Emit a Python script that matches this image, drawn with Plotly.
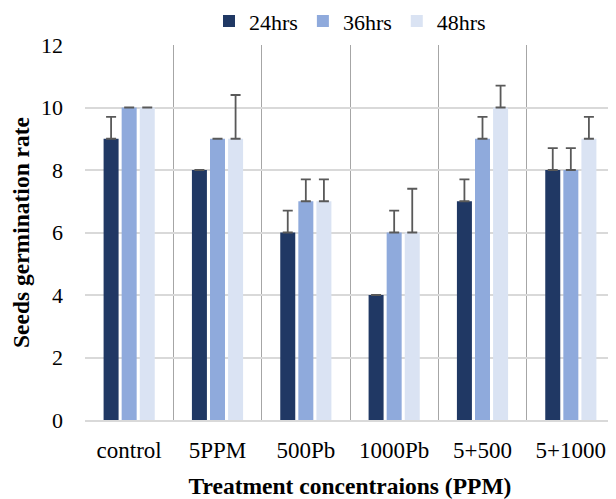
import plotly.graph_objects as go

categories = ["control", "5PPM", "500Pb", "1000Pb", "5+500", "5+1000"]
series_names = ["24hrs", "36hrs", "48hrs"]
values_24 = [9, 8, 6, 4, 7, 8]
values_36 = [10, 9, 7, 6, 9, 8]
values_48 = [10, 9, 7, 6, 10, 9]
err_24 = [0.7, 0, 0.7, 0, 0.7, 0.7]
err_36 = [0, 0, 0.7, 0.7, 0.7, 0.7]
err_48 = [0, 1.4, 0.7, 1.4, 0.7, 0.7]
colors = ["#203864", "#8FAADC", "#DAE3F3"]

font_family = "Liberation Serif, Times New Roman, serif"

fig = go.Figure()
for name, vals, errs, col in zip(series_names, [values_24, values_36, values_48],
                                 [err_24, err_36, err_48], colors):
    fig.add_trace(go.Bar(
        x=categories, y=vals, name=name,
        marker=dict(color=col, line=dict(width=0)),
        error_y=dict(type="data", array=errs, symmetric=False, arrayminus=[0]*len(errs),
                     color="#595959", thickness=1.8, width=5),
    ))

# page body has an 8px default margin, so the figure is sized to fit the window
fig.update_layout(
    width=608, height=491,
    margin=dict(l=77, r=1, t=37, b=79),
    paper_bgcolor="white", plot_bgcolor="white",
    barmode="group", bargap=0.386, bargroupgap=0.17,
    font=dict(family=font_family, color="black", size=22),
    legend=dict(orientation="h", x=0.5, xanchor="center", yref="container", y=0.973, yanchor="middle",
                font=dict(family=font_family, size=22), itemwidth=30, traceorder="normal"),
    showlegend=True,
)
fig.update_xaxes(
    type="category", tickson="boundaries", showgrid=True, gridcolor="#A6A6A6", gridwidth=1,
    ticks="", ticklabelstandoff=8, tickfont=dict(family=font_family, size=23),
    showline=True, linecolor="#D9D9D9", linewidth=2, automargin=False,
    title=dict(text="<b>Treatment concentraions (PPM)</b>", font=dict(family=font_family, size=23.5), standoff=22),
)
fig.update_yaxes(
    range=[0, 12], tickvals=[0, 2, 4, 6, 8, 10, 12], showgrid=True, gridcolor="#D9D9D9", gridwidth=2,
    zeroline=False, ticks="", ticklabelstandoff=21, tickfont=dict(family=font_family, size=22),
    automargin=False,
    title=dict(text="<b>Seeds germination rate</b>", font=dict(family=font_family, size=23.5), standoff=10),
)

fig.write_html("out.html")
